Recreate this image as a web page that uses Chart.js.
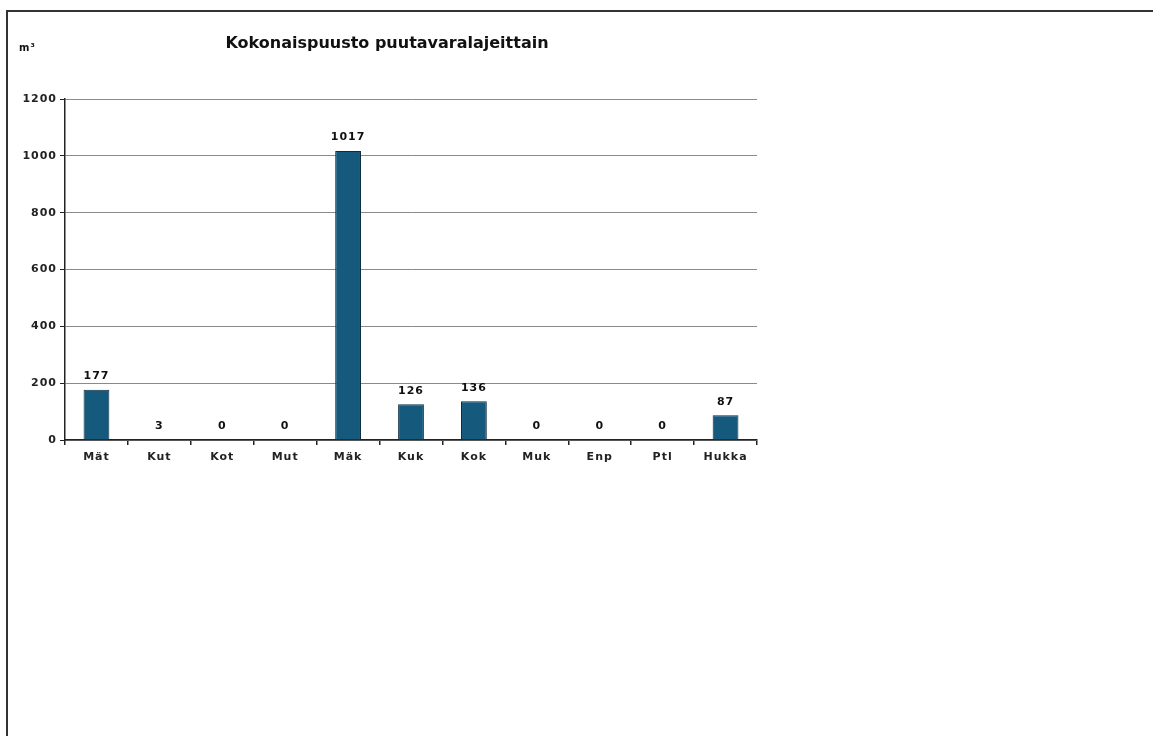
<!DOCTYPE html>
<html>
<head>
<meta charset="utf-8">
<script src="https://cdn.jsdelivr.net/npm/chart.js@4.4.1/dist/chart.umd.min.js"></script>
<style>
    html, body { margin: 0; padding: 0; background: #fff; }
    #wrap { position: relative; width: 1153px; height: 736px; }
    #frame { position: absolute; left: 6px; top: 10px; right: -4px; bottom: -4px;
             border-left: 2px solid #333; border-top: 2px solid #333; }
    canvas { position: absolute; left: 0; top: 0; }
</style>
</head>
<body>
<div id="wrap">
    <div id="frame"></div>
    <canvas id="myChart" width="1153" height="736"></canvas>
</div>
<script>
// Chart data
const categories = ['Mät', 'Kut', 'Kot', 'Mut', 'Mäk', 'Kuk', 'Kok', 'Muk', 'Enp', 'Ptl', 'Hukka'];
const volumes = [177, 3, 0, 0, 1017, 126, 136, 0, 0, 0, 87];
const yTicks = [0, 200, 400, 600, 800, 1000, 1200];

const chartTitle = 'Kokonaispuusto puutavaralajeittain';
const unitLabel = 'm³';

// wider letter spacing for axis labels, like the scanned original
const spacingPlugin = {
    id: 'spacingPlugin',
    beforeDraw(chart) { chart.ctx.letterSpacing = '1px'; }
};

// Draws title, unit and the value labels above the bars
const textPlugin = {
    id: 'textPlugin',
    afterDatasetsDraw(chart) {
        const ctx = chart.ctx;
        ctx.save();
        ctx.fillStyle = '#111';
        ctx.letterSpacing = '0px';
        ctx.font = 'bold 16px "DejaVu Sans"';
        ctx.textAlign = 'center';
        ctx.textBaseline = 'middle';
        ctx.fillText(chartTitle, 387, 44);

        ctx.font = 'bold 10px "DejaVu Sans"';
        ctx.textAlign = 'left';
        ctx.letterSpacing = '1px';
        ctx.fillText(unitLabel, 19, 48);

        // value labels
        ctx.font = 'bold 11px "DejaVu Sans"';
        ctx.textAlign = 'center';
        ctx.textBaseline = 'bottom';
        const meta = chart.getDatasetMeta(0);
        meta.data.forEach((bar, i) => {
            ctx.fillText(String(volumes[i]), bar.x, bar.y - 8);
        });
        ctx.restore();
    }
};

const ctx = document.getElementById('myChart').getContext('2d');
const myChart = new Chart(ctx, {
    type: 'bar',
    data: {
        labels: categories,
        datasets: [{
            data: volumes,
            backgroundColor: '#155a7c',
            borderColor: '#0b2c3d',
            borderWidth: 1,
            categoryPercentage: 0.82,
            barPercentage: 0.5
        }]
    },
    options: {
        responsive: false,
        animation: false,
        layout: {
            padding: { left: 0, top: 99, right: 396, bottom: 256 }
        },
        plugins: {
            legend: { display: false },
            tooltip: { enabled: false },
            title: { display: false }
        },
        scales: {
            x: {
                offset: true,
                grid: {
                    offset: true,
                    drawOnChartArea: false,
                    drawTicks: true,
                    tickLength: 5,
                    tickColor: '#222',
                    lineWidth: 1.5
                },
                border: { color: '#222', width: 1.5 },
                ticks: {
                    color: '#222',
                    padding: 6,
                    font: { family: 'DejaVu Sans', size: 11, weight: 'bold' },
                    maxRotation: 0,
                    autoSkip: false
                },
                afterFit(scale) { scale.height = 40; }
            },
            y: {
                min: 0,
                max: 1200,
                afterBuildTicks(scale) {
                    scale.ticks = yTicks.map(v => ({ value: v }));
                },
                grid: {
                    color: '#8a8a8a',
                    lineWidth: 1,
                    drawTicks: true,
                    tickLength: 5,
                    tickColor: '#222'
                },
                border: { color: '#222', width: 1.5 },
                ticks: {
                    color: '#222',
                    padding: 3,
                    font: { family: 'DejaVu Sans', size: 11, weight: 'bold' },
                    callback: value => String(value)
                },
                afterFit(scale) { scale.width = 65; }
            }
        }
    },
    plugins: [spacingPlugin, textPlugin]
});
</script>
</body>
</html>
